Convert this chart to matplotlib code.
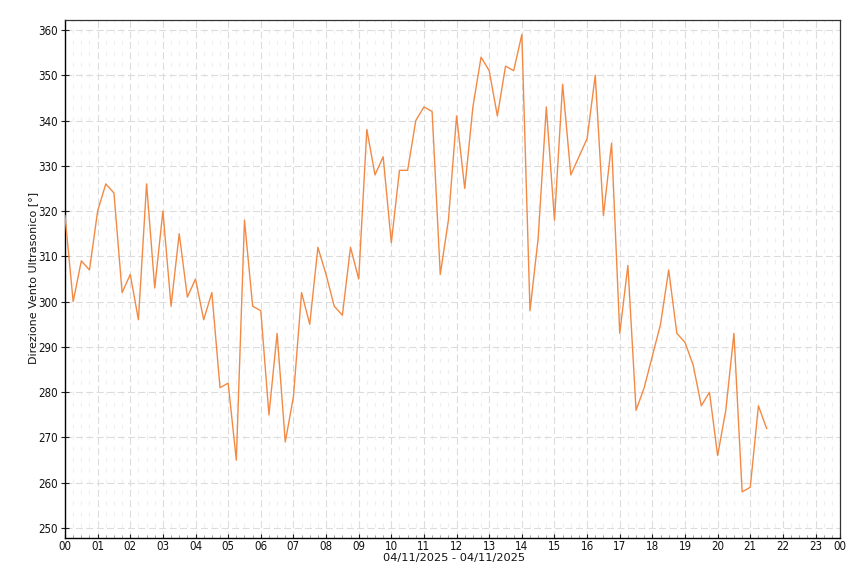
import matplotlib
matplotlib.use("Agg")
import matplotlib.pyplot as plt
import matplotlib.dates as mdates
import pandas as pd

plt.rcParams['lines.scale_dashes'] = False
plt.rcParams['font.family'] = ['DejaVu Sans']

# ---- data ----
start_time = "2025-11-04 00:00"
step = "15min"
values = [319, 300, 309, 307, 320, 326, 324, 302, 306, 296,
          326, 303, 320, 299, 315, 301, 305, 296, 302, 281,
          282, 265, 318, 299, 298, 275, 293, 269, 279, 302,
          295, 312, 306, 299, 297, 312, 305, 338, 328, 332,
          313, 329, 329, 340, 343, 342, 306, 318, 341, 325,
          343, 354, 351, 341, 352, 351, 359, 298, 314, 343,
          318, 348, 328, 332, 336, 350, 319, 335, 293, 308,
          276, 281, 288, 295, 307, 293, 291, 286, 277, 280,
          266, 276, 293, 258, 259, 277, 272]
tick_labels = ["00", "01", "02", "03", "04", "05", "06", "07", "08", "09",
               "10", "11", "12", "13", "14", "15", "16", "17", "18", "19",
               "20", "21", "22", "23", "00"]
y_ticks = [250, 260, 270, 280, 290, 300, 310, 320, 330, 340, 350, 360]
y_label = "Direzione Vento Ultrasonico [°]"
x_label = "04/11/2025 - 04/11/2025"

times = pd.date_range(start_time, periods=len(values), freq=step)
day0 = pd.Timestamp(start_time)
x_end = day0 + pd.Timedelta(hours=23, minutes=45)

fig = plt.figure(figsize=(8.6, 5.73), dpi=100)
ax = fig.add_axes([65/860, 1-538/573, 775/860, 518/573])

line_color = '#f28a45'
ax.plot(times, values, color=line_color, lw=1.0, zorder=3)

ax.set_xlim(day0, x_end)
ax.set_ylim(247.8, 362.2)

tick_pos = [day0 + pd.Timedelta(hours=h) for h in range(24)] + [x_end]
ax.set_xticks(tick_pos)
ax.set_xticklabels(tick_labels)
ax.xaxis.set_minor_locator(mdates.MinuteLocator(byminute=[15, 30, 45]))
ax.set_yticks(y_ticks)

for lab in ax.get_xticklabels() + ax.get_yticklabels():
    lab.set_fontfamily('DejaVu Sans')
    lab.set_fontstretch('condensed')
    lab.set_fontsize(8.3)
    lab.set_color('#111111')

ax.tick_params(axis='x', which='major', direction='in', length=3, width=0.8, pad=1.5, color='#222222')
ax.tick_params(axis='x', which='minor', direction='in', length=2, width=0.6, color='#999999')
ax.tick_params(axis='y', which='major', direction='inout', length=6, width=0.8, pad=2, color='#222222')

ax.grid(True, which='major', axis='both', color='#dcdcdc', lw=0.8, linestyle=(0, (5, 2.5)))
ax.grid(True, which='minor', axis='x', color='#efefef', lw=0.8, linestyle=(0, (2.9, 5.0)))
ax.set_axisbelow(True)

for side in ['left', 'bottom']:
    ax.spines[side].set_color('#000000')
    ax.spines[side].set_linewidth(1.0)
for side in ['top', 'right']:
    ax.spines[side].set_color('#333333')
    ax.spines[side].set_linewidth(0.9)

fig.text(33/860, 1-278/573, y_label, rotation=90, ha='center', va='center',
         fontsize=8, color='#111111')
fig.text(454/860, 1-553/573, x_label, ha='center', va='top',
         fontsize=8.2, color='#111111')

fig.savefig("out.png", dpi=100, facecolor='white')
